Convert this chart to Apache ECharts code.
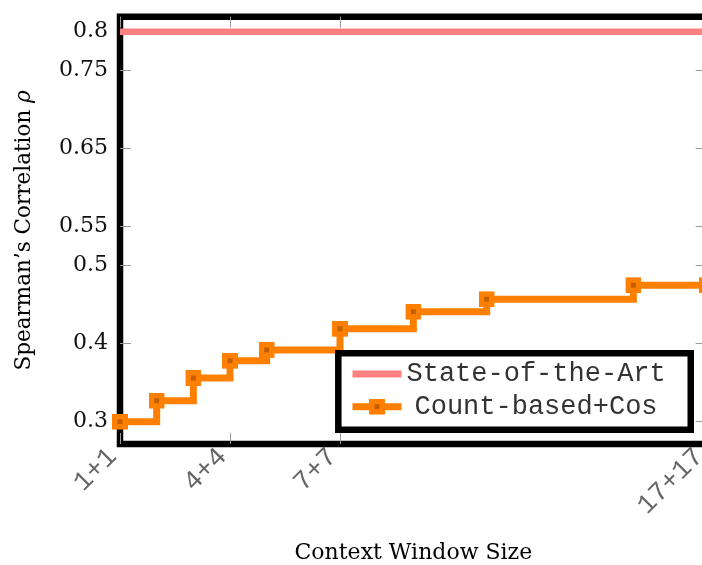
<!DOCTYPE html>
<html>
<head>
<meta charset="utf-8">
<script src="https://cdn.jsdelivr.net/npm/echarts@6/dist/echarts.min.js"></script>
<style>
  html, body { margin: 0; padding: 0; background: #fff; }
  #chart { width: 702px; height: 565px; }
</style>
</head>
<body>
<div id="chart"></div>
<script>
// Context window (n words on each side) and the Spearman correlation reached
const windowSizes = [1, 2, 3, 4, 5, 7, 9, 11, 15, 17];
const countBasedCos = [0.300, 0.327, 0.356, 0.378, 0.392, 0.419, 0.441, 0.457, 0.475, 0.475];
const stateOfTheArt = 0.80;

// Tick positions and their labels
const xTickValues = [1, 4, 7, 17];
const xTickLabels = ['1+1', '4+4', '7+7', '17+17'];
const yTickValues = [0.3, 0.4, 0.5, 0.55, 0.65, 0.75, 0.8];
const yTickLabels = ['0.3', '0.4', '0.5', '0.55', '0.65', '0.75', '0.8'];

const seriesNames = ['State-of-the-Art', 'Count-based+Cos'];

function labelFor(values, labels) {
  return function (v) {
    for (let i = 0; i < values.length; i++) {
      if (Math.abs(values[i] - v) < 1e-6) return labels[i];
    }
    return '';
  };
}

// Filled orange square with a darker centre dot
const markerSvg =
  '<svg xmlns="http://www.w3.org/2000/svg" width="16" height="16">' +
  '<rect width="16" height="16" fill="#ff8000"/>' +
  '<rect x="5.5" y="5.5" width="5" height="5" fill="#c45f00"/></svg>';
const markerSymbol = 'image://data:image/svg+xml;charset=utf-8,' + encodeURIComponent(markerSvg);

const serif = 'DejaVu Serif';
const mono = 'Liberation Mono';
const tickStyle = { color: '#999', width: 1 };

const chart = echarts.init(document.getElementById('chart'), null, { renderer: 'canvas' });

chart.setOption({
  animation: false,
  backgroundColor: '#fff',
  grid: {
    left: 120, top: 16.7, width: 586.7, height: 427.3,
    show: true, borderColor: '#000', borderWidth: 6.5, backgroundColor: 'transparent',
    containLabel: false, outerBoundsMode: 'none'
  },
  xAxis: [
    {
      type: 'value', position: 'bottom', min: 1, max: 17,
      axisLine: { show: false }, splitLine: { show: false },
      axisTick: { show: true, inside: true, length: 11, customValues: xTickValues, lineStyle: tickStyle },
      axisLabel: {
        customValues: xTickValues, formatter: labelFor(xTickValues, xTickLabels),
        rotate: 45, margin: 16, fontFamily: mono, fontSize: 27, color: '#666',
        verticalAlign: 'bottom', lineHeight: 21
      },
      name: 'Context Window Size', nameLocation: 'middle', nameGap: 98, nameMoveOverlap: false,
      nameTextStyle: { fontFamily: serif, fontSize: 22, color: '#000' }
    },
    {
      type: 'value', position: 'top', min: 1, max: 17,
      axisLine: { show: false }, splitLine: { show: false },
      axisTick: { show: true, inside: true, length: 11, customValues: xTickValues, lineStyle: tickStyle },
      axisLabel: { show: false }
    }
  ],
  yAxis: [
    {
      type: 'value', position: 'left', min: 0.2714, max: 0.8192,
      axisLine: { show: false }, splitLine: { show: false },
      axisTick: { show: true, inside: true, length: 11, customValues: yTickValues, lineStyle: tickStyle },
      axisLabel: {
        customValues: yTickValues, formatter: labelFor(yTickValues, yTickLabels),
        margin: 12, fontFamily: serif, fontSize: 22, color: '#111'
      },
      name: 'Spearman\u2019s Correlation {i|ρ}', nameLocation: 'middle', nameGap: 85, nameMoveOverlap: false,
      nameTextStyle: {
        fontFamily: serif, fontSize: 21.5, color: '#000',
        rich: { i: { fontFamily: serif, fontSize: 21.5, fontStyle: 'italic', color: '#000' } }
      }
    },
    {
      type: 'value', position: 'right', min: 0.2714, max: 0.8192,
      axisLine: { show: false }, splitLine: { show: false },
      axisTick: { show: true, inside: true, length: 11, customValues: yTickValues, lineStyle: tickStyle },
      axisLabel: { show: false }
    }
  ],
  legend: {
    orient: 'vertical', left: 338.3, top: 353.3,
    padding: [6.7, 25, 9, 10.7],
    itemWidth: 49, itemHeight: 20, itemGap: 4.7,
    backgroundColor: '#fff', borderColor: '#000', borderWidth: 6.5, borderRadius: 0,
    lineStyle: { width: 7 },
    z: 10,
    data: [
      { name: seriesNames[0], icon: 'path://M0,0H49V7H0Z', itemStyle: { borderWidth: 0 } },
      { name: seriesNames[1] }
    ],
    formatter: function (name) {
      return name === seriesNames[1] ? '{c|' + name + '}' : '{s|' + name + '}';
    },
    textStyle: {
      fontFamily: mono, fontSize: 27, color: '#333', lineHeight: 28,
      rich: {
        s: { fontFamily: mono, fontSize: 27, color: '#333', lineHeight: 28 },
        c: { fontFamily: mono, fontSize: 27, color: '#333', lineHeight: 28, padding: [0, 0, 0, 8] }
      }
    }
  },
  series: [
    {
      name: seriesNames[0], type: 'line',
      data: [[xTickValues[0], stateOfTheArt], [xTickValues[xTickValues.length - 1], stateOfTheArt]],
      symbol: 'none', showSymbol: false,
      lineStyle: { color: '#ff8080', width: 6.5, cap: 'butt' },
      itemStyle: { color: '#ff8080' },
      z: 3
    },
    {
      name: seriesNames[1], type: 'line', step: 'end',
      data: windowSizes.map(function (x, i) { return [x, countBasedCos[i]]; }),
      symbol: markerSymbol, symbolSize: 16,
      lineStyle: { color: '#ff8000', width: 7, join: 'miter', cap: 'butt' },
      itemStyle: { color: '#ff8000' },
      z: 4
    }
  ]
});
</script>
</body>
</html>
